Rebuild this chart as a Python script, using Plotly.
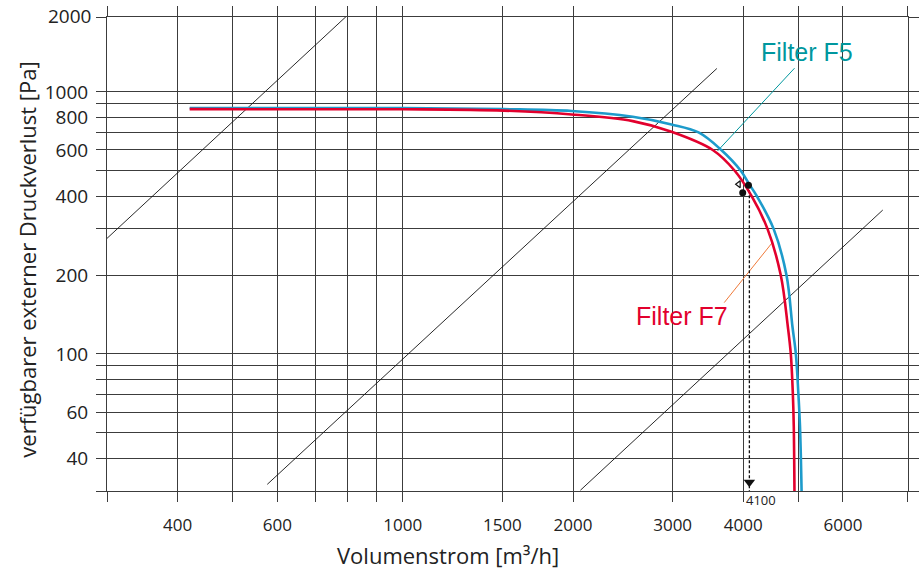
import math
import plotly.graph_objects as go

# ---------------- data ----------------
f5_flow = [420, 1000, 1508, 1989, 2550, 2986, 3334, 3657, 3959, 4100, 4227, 4525, 4768, 4886, 4954, 5004, 5038, 5071]
f5_pressure = [868, 867, 859, 845, 803, 751, 700, 600, 500, 443, 400, 300, 200, 127, 100, 71, 53, 30]

f7_flow = [420, 1000, 1508, 1989, 2550, 2986, 3532, 3863, 4138, 4414, 4658, 4795, 4853, 4893, 4912, 4926]
f7_pressure = [859, 858, 848, 820, 773, 704, 600, 500, 400, 300, 200, 127, 100, 71, 53, 30]

# system (plant) curves, two end points each
sys1_flow = [300, 801]
sys1_pressure = [276, 1972]
sys2_flow = [576, 3592]
sys2_pressure = [31.8, 1228]
sys3_flow = [2061, 7056]
sys3_pressure = [30.2, 354]

# operating point marker
op_flow = [4100, 4100]
op_pressure = [440, 30]
dot_flow = [4085, 3990]
dot_pressure = [440, 412]
arrow_flow = [4100]
arrow_pressure = [32.4]
tri_flow = [3925]
tri_pressure = [444]

# label leader lines
f5_lead_flow = [3602, 4927]
f5_lead_pressure = [595, 1231]
f7_lead_flow = [3701, 4501]
f7_lead_pressure = [157, 266]

x_tickvals = [300, 400, 500, 600, 700, 800, 900, 1000, 1500, 2000, 3000, 4000, 5000, 6000, 7815]
x_ticktext = ["", "400", "", "600", "", "", "", "1000", "1500", "2000", "3000", "4000", "", "6000", ""]
y_tickvals = [30, 40, 50, 60, 70, 80, 90, 100, 200, 300, 400, 500, 600, 700, 800, 900, 1000, 1928]
y_ticktext = ["", "40", "", "60", "", "", "", "100", "200", "", "400", "", "600", "", "800", "", "1000", ""]

X_MIN, X_MAX = 300, 7820
Y_MIN, Y_MAX = 30, 1930

BLUE = "#1d9bcb"
RED = "#e2002d"
TEAL = "#00979e"
ORANGE = "#ef7a3a"
GRID = "#3c3c3c"
TXT = "#222222"
FONT = "Open Sans, DejaVu Sans, sans-serif"

fig = go.Figure()

for fx, fy in [(sys1_flow, sys1_pressure), (sys2_flow, sys2_pressure), (sys3_flow, sys3_pressure)]:
    fig.add_trace(go.Scatter(x=fx, y=fy, mode="lines", line=dict(color="#111111", width=0.9),
                             hoverinfo="skip", showlegend=False))

fig.add_trace(go.Scatter(x=f5_lead_flow, y=f5_lead_pressure, mode="lines",
                         line=dict(color=TEAL, width=1), showlegend=False, hoverinfo="skip"))
fig.add_trace(go.Scatter(x=f7_lead_flow, y=f7_lead_pressure, mode="lines",
                         line=dict(color=ORANGE, width=1), showlegend=False, hoverinfo="skip"))

fig.add_trace(go.Scatter(x=op_flow, y=op_pressure, mode="lines",
                         line=dict(color="#111111", width=1.3, dash="3px,2px"), showlegend=False))

fig.add_trace(go.Scatter(x=f5_flow, y=f5_pressure, mode="lines", name="Filter F5",
                         line=dict(color=BLUE, width=2.6, shape="spline", smoothing=1.0), showlegend=False))
fig.add_trace(go.Scatter(x=f7_flow, y=f7_pressure, mode="lines", name="Filter F7",
                         line=dict(color=RED, width=2.6, shape="spline", smoothing=1.0), showlegend=False))

fig.add_trace(go.Scatter(x=dot_flow, y=dot_pressure, mode="markers",
                         marker=dict(color="#111111", size=7), showlegend=False))
fig.add_trace(go.Scatter(x=arrow_flow, y=arrow_pressure, mode="markers",
                         marker=dict(color="#111111", size=10, symbol="triangle-down"), showlegend=False))
fig.add_trace(go.Scatter(x=tri_flow, y=tri_pressure, mode="markers",
                         marker=dict(color="#111111", size=6, symbol="triangle-left-open",
                                     line=dict(width=1.2, color="#111111")), showlegend=False))

axis_common = dict(
    type="log", showgrid=True, gridcolor=GRID, gridwidth=1,
    showline=True, linecolor=GRID, linewidth=1, mirror="allticks",
    ticks="outside", ticklen=10, tickwidth=1, tickcolor=GRID,
    zeroline=False, tickmode="array", automargin=False,
)

fig.update_xaxes(range=[math.log10(X_MIN), math.log10(X_MAX)], tickvals=x_tickvals, ticktext=x_ticktext,
                 ticklabelstandoff=9, tickfont=dict(family=FONT, size=17, color=TXT), **axis_common)
fig.update_yaxes(range=[math.log10(Y_MIN), math.log10(Y_MAX)], tickvals=y_tickvals, ticktext=y_ticktext,
                 ticklabelstandoff=4, tickfont=dict(family=FONT, size=19, color=TXT), **axis_common)

annotations = [
    dict(text="verfügbarer externer Druckverlust [Pa]", xref="paper", yref="paper", x=-0.0999, y=0.488,
         xanchor="center", yanchor="middle",
         textangle=-90, showarrow=False, font=dict(family=FONT, size=22, color=TXT)),
    dict(text="Volumenstrom [m³/h]", xref="paper", yref="paper", x=0.4257, y=-0.136,
         xanchor="center", yanchor="middle",
         showarrow=False, font=dict(family=FONT, size=22, color=TXT)),
    dict(text="2000", xref="paper", yref="paper", x=0, y=1.003, xanchor="right", yanchor="middle",
         xshift=-14, showarrow=False, font=dict(family=FONT, size=19, color=TXT)),
    dict(text="4100", xref="x", yref="paper", x=math.log10(arrow_flow[0]), y=-0.018, xanchor="left",
         yanchor="middle", xshift=-5, showarrow=False, font=dict(family=FONT, size=13, color=TXT)),
    dict(text="Filter F5", xref="x", yref="y", x=math.log10(5176), y=math.log10(1417),
         xanchor="center", yanchor="middle",
         showarrow=False, font=dict(family="Liberation Sans, Arial, sans-serif", size=25, color=TEAL)),
    dict(text="Filter F7", xref="x", yref="y", x=math.log10(3111), y=math.log10(139),
         xanchor="center", yanchor="middle",
         showarrow=False, font=dict(family="Liberation Sans, Arial, sans-serif", size=25, color=RED)),
]

fig.update_layout(
    width=919, height=572,
    margin=dict(l=107, r=11, t=17, b=81),
    paper_bgcolor="white", plot_bgcolor="white",
    annotations=annotations,
    showlegend=False,
)

# remove the default 8px page margin so the figure fills the window exactly
fig.write_html("out.html", config={"displayModeBar": False},
               post_script="document.body.style.margin='0px';")
